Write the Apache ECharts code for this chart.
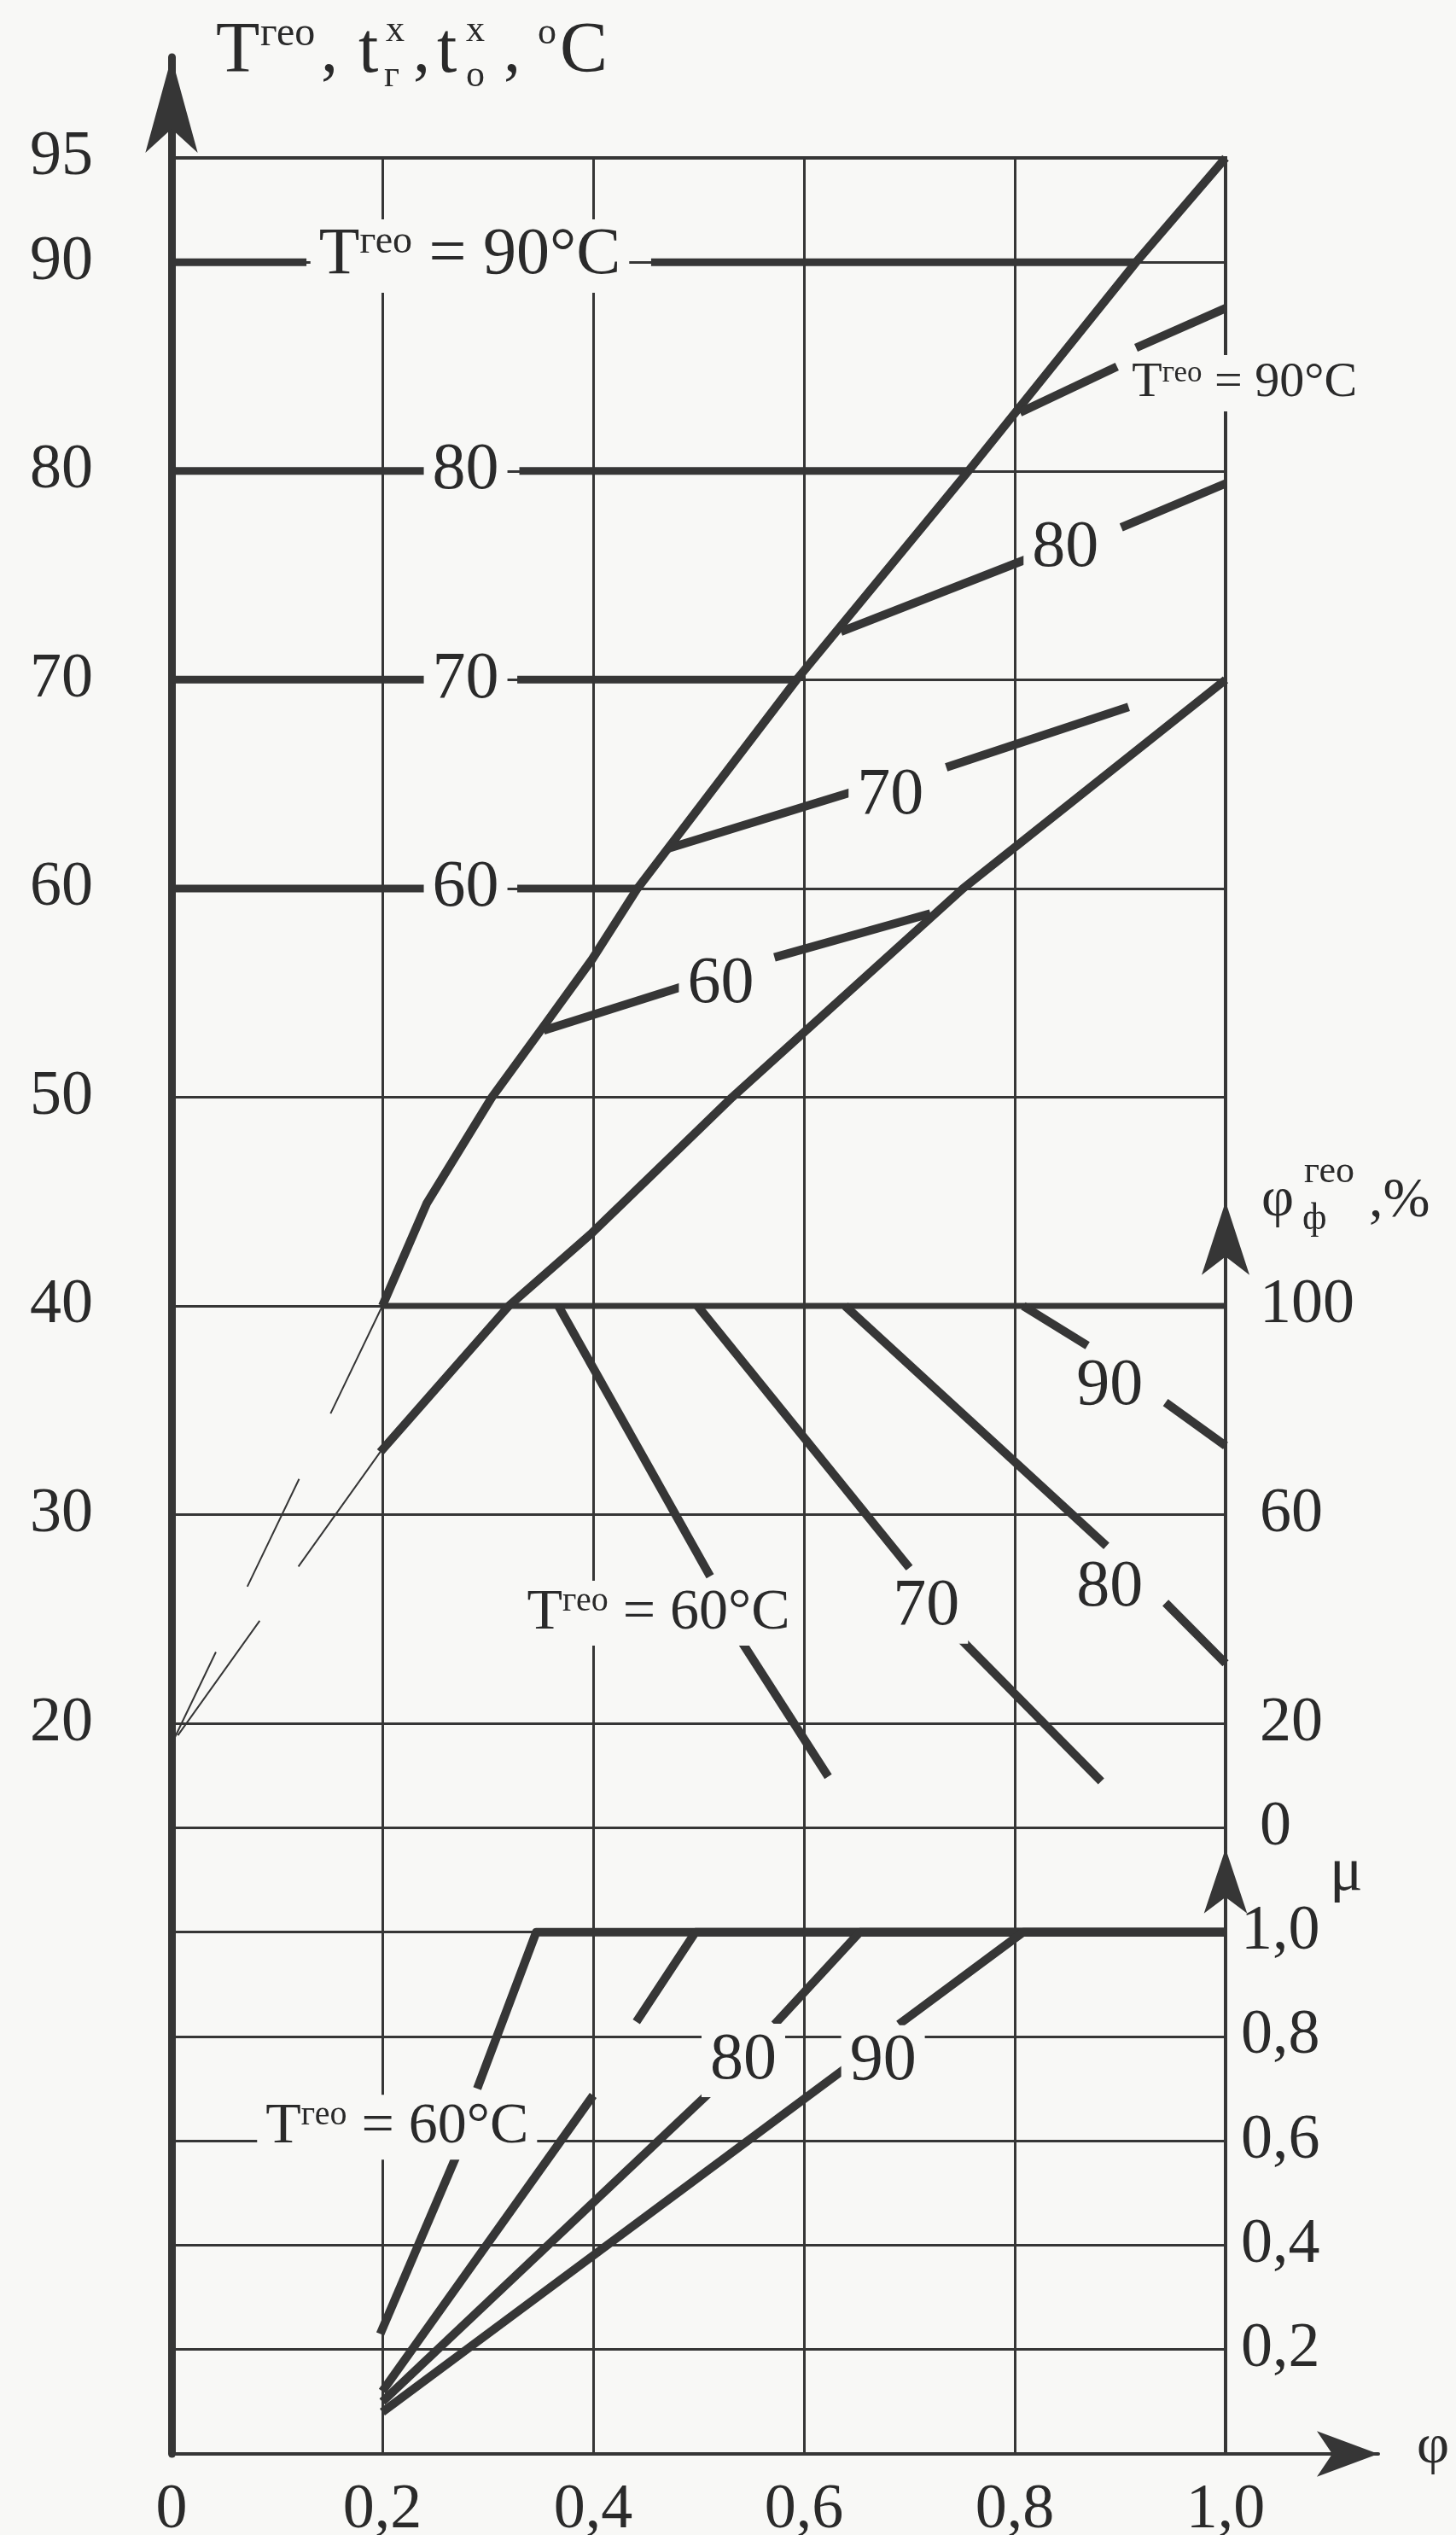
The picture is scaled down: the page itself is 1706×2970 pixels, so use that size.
<!DOCTYPE html>
<html lang="ru">
<head>
<meta charset="UTF-8">
<title>Номограмма</title>
<script src="https://cdn.jsdelivr.net/npm/echarts@6/dist/echarts.min.js"></script>
<style>
  html, body { margin: 0; padding: 0; background: #f8f8f6; }
  #main { width: 1706px; height: 2970px; }
</style>
</head>
<body>
<div id="main"></div>
<script>
// ---- values ----
// ticks
var tLabels = [20, 30, 40, 50, 60, 70, 80, 90, 95];
var tGridLines = [-10, -5, 0, 5, 10, 15, 20, 30, 40, 50, 60, 70, 80, 90];
var phiFLabels = [0, 20, 60, 100];
var muLabels = [0.2, 0.4, 0.6, 0.8, 1.0];

// upper field: T (°C) against φ
var curveA = [[0.200, 40], [0.242, 44.9], [0.304, 50], [0.356, 53.6], [0.399, 56.6],
              [0.442, 60], [0.593, 70], [0.756, 80], [0.915, 90], [1.000, 95]];
var curveB = [[0.198, 33], [0.320, 40], [0.399, 43.5], [0.485, 47.7], [0.532, 50], [0.751, 60], [1.000, 70]];
var level90 = [[[0, 90], [0.128, 90]], [[0.455, 90], [0.915, 90]]];
var level80 = [[[0, 80], [0.240, 80]], [[0.330, 80], [0.756, 80]]];
var level70 = [[[0, 70], [0.240, 70]], [[0.328, 70], [0.593, 70]]];
var level60 = [[[0, 60], [0.240, 60]], [[0.328, 60], [0.442, 60]]];
var level40 = [[[0.2, 40], [1.0, 40]]];
var iso90 = [[[0.805, 82.8], [0.897, 85.0]], [[0.915, 85.9], [1.0, 87.8]]];
var iso80 = [[[0.635, 72.3], [0.8125, 75.8]], [[0.901, 77.3], [1.0, 79.4]]];
var iso70 = [[[0.470, 61.9], [0.644, 64.6]], [[0.735, 65.8], [0.908, 68.7]]];
var iso60 = [[[0.353, 53.2], [0.485, 55.3]], [[0.572, 56.7], [0.720, 58.8]]];
var guideUpper = [[[0.2, 40], [0, 19]]];
var guideLower = [[[0.198, 33], [0, 19]]];

// middle field: φф (%) against φ
var drop60 = [[[0.367, 100], [0.511, 48.2]], [[0.541, 35.6], [0.623, 9.8]]];
var drop70 = [[[0.499, 100], [0.700, 49.8]], [[0.747, 36.5], [0.882, 8.9]]];
var drop80 = [[[0.639, 100], [0.887, 54.0]], [[0.943, 43.1], [1.0, 31.5]]];
var drop90 = [[[0.808, 100], [0.869, 92.4]], [[0.943, 81.5], [1.0, 73.2]]];

// lower field: μ against φ
var mu60 = [[[0.198, 0.23], [0.270, 0.57]], [[0.290, 0.70], [0.346, 1.0], [1.0, 1.0]]];
var mu70 = [[[0.200, 0.12], [0.400, 0.687]], [[0.441, 0.828], [0.497, 1.0], [1.0, 1.0]]];
var mu80 = [[[0.200, 0.10], [0.516, 0.703]], [[0.572, 0.823], [0.653, 1.0], [1.0, 1.0]]];
var mu90 = [[[0.200, 0.08], [0.642, 0.743]], [[0.690, 0.823], [0.808, 1.0], [1.0, 1.0]]];

// curve captions [φ, value, text]
var labelsT = [
  [0.283, 90.3, '{a|T}{as|гео}{a| = 90°C}'],
  [0.279, 80, '80'], [0.279, 70, '70'], [0.279, 60, '60'],
  [1.018, 84.2, '{b|T}{bs|гео}{b| = 90°C}'],
  [0.848, 76.3, '80'], [0.682, 64.45, '70'], [0.521, 55.4, '60']
];
var labelsPhiF = [
  [0.462, 41.1, '{c|T}{cs|гео}{c| = 60°C}'],
  [0.716, 42.3, '70'], [0.89, 46.0, '80'], [0.89, 84.5, '90']
];
var labelsMu = [
  [0.214, 0.626, '{c|T}{cs|гео}{c| = 60°C}'],
  [0.5425, 0.754, '80'], [0.675, 0.751, '90']
];

// ---- drawing ----
var INK = '#363636', TXT = '#2a2a2a', BG = '#f8f8f6';
var SERIF = '"Liberation Serif", "DejaVu Serif", serif';

// frame: the T scale runs -15..95 over the whole height
var L = 201, W = 1235, TOP = 185, BOT = 2875;
function yT(t) { return TOP + (95 - t) * (BOT - TOP) / 110; }
function comma(v) { return v === 0 ? '0' : v.toFixed(1).replace('.', ','); }

var RICH = {
  a: { fontFamily: SERIF, fontSize: 78, color: TXT },
  as: { fontFamily: SERIF, fontSize: 46, color: TXT, verticalAlign: 'top' },
  b: { fontFamily: SERIF, fontSize: 58, color: TXT },
  bs: { fontFamily: SERIF, fontSize: 35, color: TXT, verticalAlign: 'top' },
  c: { fontFamily: SERIF, fontSize: 68, color: TXT },
  cs: { fontFamily: SERIF, fontSize: 40, color: TXT, verticalAlign: 'top' }
};

var series = [];
function addLine(segList, gi, width, dash) {
  segList.forEach(function (seg) {
    series.push({
      type: 'line', xAxisIndex: gi, yAxisIndex: gi, data: seg,
      symbol: 'none', silent: true, z: 3,
      lineStyle: { color: INK, width: width, type: dash || 'solid', cap: 'butt', join: 'round' }
    });
  });
}
function addLabels(list, gi) {
  series.push({
    type: 'scatter', xAxisIndex: gi, yAxisIndex: gi, clip: false, silent: true, z: 6,
    symbolSize: 0, itemStyle: { color: TXT },
    data: list.map(function (l) { return { value: [l[0], l[1]], txt: l[2] }; }),
    label: {
      show: true, position: 'inside',
      formatter: function (p) { return p.data.txt; },
      fontFamily: SERIF, fontSize: 78, color: TXT, opacity: 1,
      textBorderWidth: 0, textShadowBlur: 0,
      backgroundColor: BG, padding: [4, 10], rich: RICH
    }
  });
}

addLine([curveA], 0, 10);
addLine([curveB], 0, 10);
[level90, level80, level70, level60].forEach(function (s) { addLine(s, 0, 9); });
addLine(level40, 0, 7);
[iso90, iso80, iso70, iso60].forEach(function (s) { addLine(s, 0, 10); });
addLine(guideUpper, 0, 2, [140, 85]);
addLine(guideLower, 0, 2, [165, 78]);
[drop60, drop70, drop80, drop90].forEach(function (s) { addLine(s, 1, 10); });
[mu60, mu70, mu80, mu90].forEach(function (s) { addLine(s, 2, 10); });
addLabels(labelsT, 0);
addLabels(labelsPhiF, 1);
addLabels(labelsMu, 2);

var tickFont = { fontFamily: SERIF, color: TXT, fontSize: 74 };
function arrowLine(width, w, h) {
  return { show: true, onZero: false, lineStyle: { color: INK, width: width },
           symbol: ['none', 'arrow'], symbolSize: [w, h], symbolOffset: [0, 0] };
}
var off = { axisTick: { show: false }, axisLabel: { show: false }, splitLine: { show: false } };

function txt(x, y, s, size) {
  return { type: 'text', x: x, y: y, silent: true, z: 10,
    style: { text: s, font: size + 'px ' + SERIF, fill: TXT,
             align: 'left', textAlign: 'left', verticalAlign: 'middle', textVerticalAlign: 'middle' } };
}

var option = {
  animation: false,
  backgroundColor: BG,
  textStyle: { fontFamily: SERIF },
  grid: [
    { left: L, top: TOP, width: W, height: BOT - TOP, show: true, borderColor: INK, borderWidth: 4,
      backgroundColor: 'transparent', outerBoundsMode: 'none' },
    { left: L, top: yT(45), width: W, height: yT(15) - yT(45), outerBoundsMode: 'none' },
    { left: L, top: yT(14), width: W, height: BOT - yT(14), outerBoundsMode: 'none' },
    { left: L, top: 67, width: W, height: BOT - 67, outerBoundsMode: 'none' },
    { left: L, top: BOT - 40, width: 1615 - L, height: 40, outerBoundsMode: 'none' }
  ],
  xAxis: [
    { gridIndex: 0, type: 'value', min: 0, max: 1, interval: 0.2,
      axisLine: { show: false }, axisTick: { show: false },
      axisLabel: Object.assign({ margin: 30, formatter: comma }, tickFont),
      splitLine: { show: true, lineStyle: { color: INK, width: 3 } } },
    { gridIndex: 1, type: 'value', min: 0, max: 1, show: false },
    { gridIndex: 2, type: 'value', min: 0, max: 1, show: false },
    { gridIndex: 3, type: 'value', min: 0, max: 1, show: false },
    Object.assign({ gridIndex: 4, type: 'value', min: 0, max: 1, axisLine: arrowLine(4, 40, 72) }, off)
  ],
  yAxis: [
    { gridIndex: 0, type: 'value', min: -15, max: 95,
      axisLine: { show: false },
      axisTick: { show: false, customValues: tGridLines },
      axisLabel: Object.assign({ customValues: tLabels, margin: 92 }, tickFont),
      splitLine: { show: true, lineStyle: { color: INK, width: 3 } } },
    { gridIndex: 1, type: 'value', position: 'right', min: 0, max: 120,
      axisLine: arrowLine(4, 42, 86), axisTick: { show: false }, splitLine: { show: false },
      axisLabel: Object.assign({ customValues: phiFLabels, margin: 40, padding: [0, 0, 20, 0] }, tickFont) },
    { gridIndex: 2, type: 'value', position: 'right', min: 0, max: 1.16,
      axisLine: arrowLine(4, 38, 76), axisTick: { show: false }, splitLine: { show: false },
      axisLabel: Object.assign({ customValues: muLabels, margin: 18, formatter: comma,
                                 padding: [0, 0, 14, 0] }, tickFont) },
    Object.assign({ gridIndex: 3, type: 'value', position: 'left', min: 0, max: 1,
                    axisLine: arrowLine(9, 46, 112) }, off),
    { gridIndex: 4, type: 'value', min: 0, max: 1, show: false }
  ],
  graphic: [
    // T^гео, t^x_г, t^x_о, °C
    txt(253, 62, 'T', 84), txt(305, 40, 'гео', 48), txt(376, 62, ',', 80),
    txt(420, 62, 't', 84), txt(452, 36, 'x', 44), txt(450, 89, 'г', 44), txt(484, 62, ',', 80),
    txt(512, 62, 't', 84), txt(546, 36, 'x', 44), txt(546, 89, 'о', 44), txt(590, 62, ',', 80),
    txt(630, 39, 'o', 44), txt(656, 62, 'C', 84),
    // φф^гео ,%
    txt(1478, 1407, 'φ', 66), txt(1528, 1373, 'гео', 44), txt(1526, 1428, 'ф', 44),
    txt(1604, 1408, ',%', 66),
    // μ and φ
    txt(1558, 2195, 'μ', 72), txt(1660, 2868, 'φ', 66)
  ],
  series: series
};

var chart = echarts.init(document.getElementById('main'));
chart.setOption(option);
</script>
</body>
</html>
